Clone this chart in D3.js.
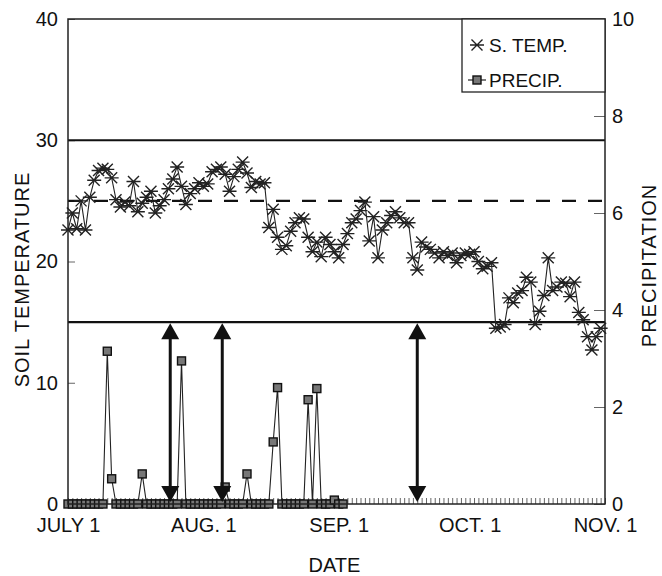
<!DOCTYPE html>
<html>
<head>
<meta charset="utf-8">
<title>Soil temperature and precipitation</title>
<script src="https://cdn.jsdelivr.net/npm/d3@7"></script>
<style>
  body { margin: 0; background: #fff; }
  text { font-family: "Liberation Sans", Arial, sans-serif; fill: #111; }
  .axis path { display: none; }
  .axis line { stroke: #666; }
</style>
</head>
<body>
<script>
// daily soil temperature from July 1 (deg)
var tempValues = [
  22.6, 24.0, 22.7, 25.0, 22.6, 25.3, 26.7, 27.5, 27.7, 27.6,
  26.9, 25.1, 24.5, 24.9, 24.6, 26.6, 24.1, 24.8, 25.3, 25.8,
  24.0, 24.6, 25.1, 26.0, 26.8, 27.8, 26.2, 24.7, 25.6, 26.0,
  26.5, 26.2, 26.4, 27.4, 27.6, 27.8, 27.2, 25.8, 27.0, 27.6,
  28.2, 27.3, 26.1, 26.6, 26.4, 26.5, 22.8, 24.3, 22.0, 21.0,
  21.3, 22.5, 23.2, 23.6, 23.5, 22.0, 20.8, 21.6, 20.4, 22.0,
  21.4, 20.8, 20.3, 21.4, 22.3, 23.2, 23.5, 24.2, 24.9, 21.7,
  23.7, 20.3, 22.6, 23.2, 23.8, 24.1, 23.6, 23.2, 23.2, 20.3,
  19.3, 21.6, 21.2, 21.0, 20.7, 20.3, 20.8, 20.5, 20.7, 19.9,
  20.5, 20.7, 20.6, 20.8, 20.0, 19.4, 19.6, 19.9, 14.5, 14.6,
  14.8, 17.0, 16.6, 17.4, 17.6, 18.7, 18.3, 14.8, 15.9, 17.2,
  20.3, 17.6, 17.9, 18.3, 18.2, 17.1, 18.3, 15.8, 15.2, 13.8,
  12.7, 13.8, 14.5
];

// daily precipitation from July 1 (right axis)
var precipValues = [
  0, 0, 0, 0, 0, 0, 0, 0, 0, 3.15,
  0.52, 0, 0, 0, 0, 0, 0, 0.62, 0, 0,
  0, 0, 0, 0, 0, 0, 2.95, 0, 0, 0,
  0, 0, 0, 0, 0, 0, 0.35, 0, 0, 0,
  0, 0.62, 0, 0, 0, 0, 0, 1.28, 2.40, 0,
  0, 0, 0, 0, 0, 2.15, 0, 2.38, 0, 0,
  0, 0.08, 0, 0
];

var startDate = new Date(1990, 6, 1);
var endDate = new Date(1990, 10, 1);
var monthTicks = [new Date(1990, 6, 1), new Date(1990, 7, 1), new Date(1990, 8, 1), new Date(1990, 9, 1), new Date(1990, 10, 1)];
var monthLabels = ["JULY 1", "AUG. 1", "SEP. 1", "OCT. 1", "NOV. 1"];
var leftTicks = [0, 10, 20, 30, 40];
var rightTicks = [0, 2, 4, 6, 8, 10];
var solidLines = [30, 15];
var dashedLine = 25;
var arrowDates = [new Date(1990, 6, 24, 10), new Date(1990, 7, 5, 8), new Date(1990, 8, 19)];

var W = 662, H = 576;
var L = 68, R = 605, T = 19, B = 504;

var svg = d3.select("body").append("svg").attr("width", W).attr("height", H);

var x = d3.scaleTime().domain([startDate, endDate]).range([L, R]);
var yL = d3.scaleLinear().domain([0, 40]).range([B, T]);
var yR = d3.scaleLinear().domain([0, 10]).range([B, T]);

function dayDate(i) { return d3.timeDay.offset(startDate, i); }

var tempData = tempValues.map(function(v, i) { return { date: dayDate(i), v: v }; });
var precipData = precipValues.map(function(v, i) { return { date: dayDate(i), v: v }; });

// daily minor ticks along the bottom
svg.append("g").attr("class", "axis")
  .attr("transform", "translate(0," + B + ")")
  .call(d3.axisBottom(x).ticks(d3.timeDay.every(1)).tickSize(-6).tickFormat(""))
  .selectAll("line").attr("stroke", "#888").attr("stroke-width", 1);

// month labels
svg.append("g").attr("class", "axis")
  .attr("transform", "translate(0," + B + ")")
  .call(d3.axisBottom(x).tickValues(monthTicks).tickSize(0).tickPadding(14)
    .tickFormat(function(d, i) { return monthLabels[i]; }))
  .selectAll("text").style("font-size", "20px");

svg.append("g").attr("class", "axis")
  .attr("transform", "translate(" + L + ",0)")
  .call(d3.axisLeft(yL).tickValues(leftTicks).tickSize(-7).tickPadding(10))
  .selectAll("text").style("font-size", "20px");

svg.append("g").attr("class", "axis")
  .attr("transform", "translate(" + R + ",0)")
  .call(d3.axisRight(yR).tickValues(rightTicks).tickSize(-11).tickPadding(7))
  .selectAll("text").style("font-size", "20px");

// reference lines
solidLines.forEach(function(v) {
  svg.append("line").attr("x1", L).attr("x2", R).attr("y1", yL(v)).attr("y2", yL(v))
    .attr("stroke", "#111").attr("stroke-width", 2.2);
});
svg.append("line").attr("x1", L).attr("x2", R).attr("y1", yL(dashedLine)).attr("y2", yL(dashedLine))
  .attr("stroke", "#111").attr("stroke-width", 2.2).attr("stroke-dasharray", "14,12");

// precipitation
svg.append("path").datum(precipData)
  .attr("fill", "none").attr("stroke", "#222").attr("stroke-width", 1.1)
  .attr("d", d3.line().x(function(d) { return x(d.date); }).y(function(d) { return yR(d.v); }));
svg.selectAll(".pm").data(precipData).enter().append("rect")
  .attr("class", "pm")
  .attr("x", function(d) { return x(d.date) - 4; })
  .attr("y", function(d) { return yR(d.v) - 4; })
  .attr("width", 8).attr("height", 8)
  .attr("fill", "#777").attr("stroke", "#111").attr("stroke-width", 1.4);

// temperature
svg.append("path").datum(tempData)
  .attr("fill", "none").attr("stroke", "#222").attr("stroke-width", 1.1)
  .attr("d", d3.line().x(function(d) { return x(d.date); }).y(function(d) { return yL(d.v); }));
var star = "M-7,0H7M-5.5,-5.5L5.5,5.5M-5.5,5.5L5.5,-5.5";
svg.selectAll(".tm").data(tempData).enter().append("path")
  .attr("class", "tm")
  .attr("transform", function(d) { return "translate(" + x(d.date) + "," + yL(d.v) + ")"; })
  .attr("d", star)
  .attr("stroke", "#222").attr("stroke-width", 1.4).attr("fill", "none");

// double arrows
arrowDates.forEach(function(d) {
  var ax = x(d), top = yL(15) + 1, bot = B - 2;
  svg.append("line").attr("x1", ax).attr("x2", ax).attr("y1", top + 10).attr("y2", bot - 10)
    .attr("stroke", "#111").attr("stroke-width", 3);
  svg.append("path").attr("d", "M" + ax + "," + top + "L" + (ax - 9) + "," + (top + 16) + "L" + (ax + 9) + "," + (top + 16) + "Z")
    .attr("fill", "#111");
  svg.append("path").attr("d", "M" + ax + "," + bot + "L" + (ax - 9) + "," + (bot - 16) + "L" + (ax + 9) + "," + (bot - 16) + "Z")
    .attr("fill", "#111");
});

// frame
svg.append("rect").attr("x", L).attr("y", T).attr("width", R - L).attr("height", B - T)
  .attr("fill", "none").attr("stroke", "#222").attr("stroke-width", 1.5);

// legend
var lg = svg.append("g");
lg.append("rect").attr("x", 462).attr("y", T).attr("width", R - 462).attr("height", 73)
  .attr("fill", "#fff").attr("stroke", "#222").attr("stroke-width", 1.3);
lg.append("path").attr("transform", "translate(477,45)").attr("d", star)
  .attr("stroke", "#222").attr("stroke-width", 1.4).attr("fill", "none");
lg.append("text").attr("x", 489).attr("y", 52).style("font-size", "19px").text("S. TEMP.");
lg.append("line").attr("x1", 468).attr("x2", 486).attr("y1", 80).attr("y2", 80)
  .attr("stroke", "#222").attr("stroke-width", 1.2);
lg.append("rect").attr("x", 473).attr("y", 76).attr("width", 8).attr("height", 8)
  .attr("fill", "#777").attr("stroke", "#111").attr("stroke-width", 1.4);
lg.append("text").attr("x", 489).attr("y", 87).style("font-size", "19px").text("PRECIP.");

// axis titles
svg.append("text").attr("transform", "translate(29," + ((T + B) / 2 + 18) + ") rotate(-90)")
  .attr("text-anchor", "middle").style("font-size", "20px").style("letter-spacing", "1px")
  .text("SOIL TEMPERATURE");
svg.append("text").attr("transform", "translate(656," + ((T + B) / 2 + 4) + ") rotate(-90)")
  .attr("text-anchor", "middle").style("font-size", "20px").style("letter-spacing", "1px")
  .text("PRECIPITATION");
svg.append("text").attr("x", (L + R) / 2 - 2).attr("y", 572)
  .attr("text-anchor", "middle").style("font-size", "20px").text("DATE");
</script>
</body>
</html>
